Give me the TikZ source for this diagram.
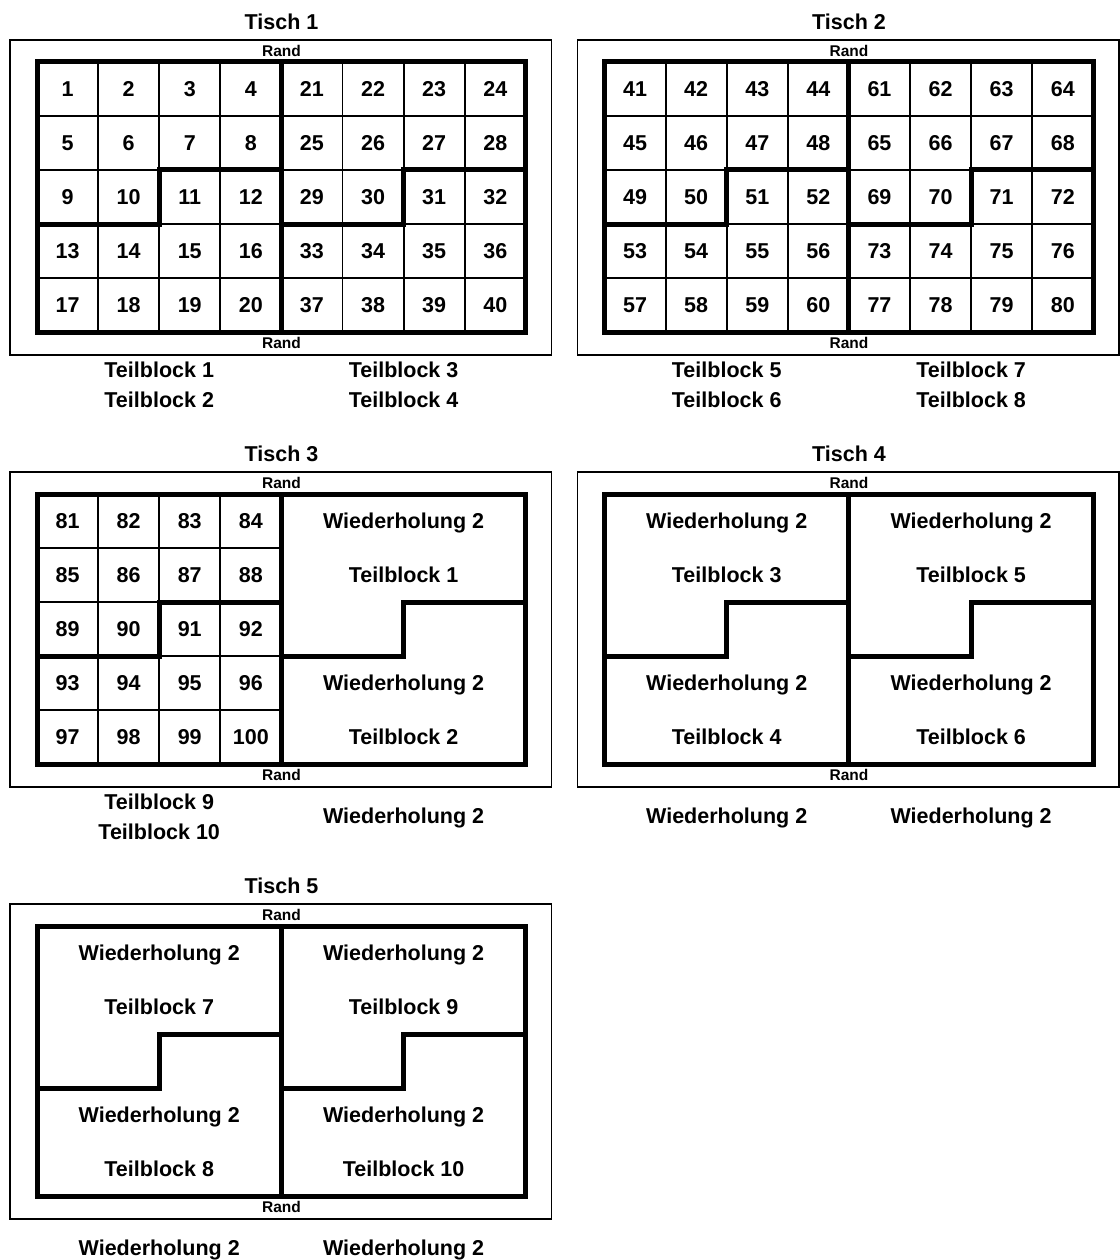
\documentclass[tikz,border=0pt]{standalone}
\usepackage{fontspec}
\setmainfont{Liberation Sans}
\newcommand\tischframe[2]{% title, id
  \draw[frame] (10,40) rectangle (551.5,355);
  \node[big] (#2title) at (281.5,22) {#1};
  \node[small] (#2rtop) at (281.5,50.5) {Rand};
  \node[small] (#2rbot) at (281.5,342.5) {Rand};}
\newcommand\numhalf[2]{% left x, first number
  \foreach \i in {1,2,3} \draw[gridline] ({#1+61.1*\i},62) -- ({#1+61.1*\i},332);
  \foreach \j in {1,2,3,4} \draw[gridline] (#1,{62+54*\j}) -- ({#1+244.4},{62+54*\j});
  \foreach \r in {0,...,4}{\foreach \c in {0,...,3}{%
     \pgfmathtruncatemacro\num{#2+4*\r+\c}%
     \node[big] (n\num) at ({#1+61.1*(\c+0.5)},{62+54*(\r+0.5)}) {\num};}}}
\newcommand\wdhalf[4]{% center x, id, top block, bottom block
  \node[big] (#2wa) at (#1,89) {Wiederholung 2};
  \node[big] (#2ta) at (#1,143) {Teilblock #3};
  \node[big] (#2wb) at (#1,251) {Wiederholung 2};
  \node[big] (#2tb) at (#1,305) {Teilblock #4};}
\newcommand\blocklines{%
  \draw[blockline] (37,62) rectangle (525.8,332);
  \draw[blockline] (281.4,62) -- (281.4,332);
  \draw[blockline] (281.4,170) -- (159.2,170) -- (159.2,224) -- (37,224);
  \draw[blockline] (525.8,170) -- (403.6,170) -- (403.6,224) -- (281.4,224);}
\begin{document}
\begin{tikzpicture}[x=1pt,y=-1pt,
  big/.style={font=\fontsize{21.5}{24}\selectfont\bfseries, inner sep=0pt, text height=15.4pt, text depth=0pt},
  small/.style={font=\fontsize{15.5}{18}\selectfont\bfseries, inner sep=0pt, text height=11.1pt, text depth=0pt},
  gridline/.style={line width=1.8pt},
  blockline/.style={line width=5pt, line cap=rect},
  frame/.style={line width=1.6pt}]
\useasboundingbox (0,0) rectangle (1119,1260);
\fill[white] (0,0) rectangle (1119,1260);
% Tisch 1
\begin{scope}
  \tischframe{Tisch 1}{ta}
  \numhalf{37}{1}
  \numhalf{281.4}{21}
  \blocklines
  \node[big] (taL1) at (159.2,370) {Teilblock 1};
  \node[big] (taL2) at (159.2,400) {Teilblock 2};
  \node[big] (taL3) at (403.6,370) {Teilblock 3};
  \node[big] (taL4) at (403.6,400) {Teilblock 4};
\end{scope}
% Tisch 2
\begin{scope}[shift={(567.5,0)}]
  \tischframe{Tisch 2}{tb}
  \numhalf{37}{41}
  \numhalf{281.4}{61}
  \blocklines
  \node[big] (tbL1) at (159.2,370) {Teilblock 5};
  \node[big] (tbL2) at (159.2,400) {Teilblock 6};
  \node[big] (tbL3) at (403.6,370) {Teilblock 7};
  \node[big] (tbL4) at (403.6,400) {Teilblock 8};
\end{scope}
% Tisch 3
\begin{scope}[shift={(0,432)}]
  \tischframe{Tisch 3}{tc}
  \numhalf{37}{81}
  \wdhalf{403.6}{tcR}{1}{2}
  \blocklines
  \node[big] (tcL1) at (159.2,370) {Teilblock 9};
  \node[big] (tcL2) at (159.2,400) {Teilblock 10};
  \node[big] (tcL3) at (403.6,384) {Wiederholung 2};
\end{scope}
% Tisch 4
\begin{scope}[shift={(567.5,432)}]
  \tischframe{Tisch 4}{td}
  \wdhalf{159.2}{tdL}{3}{4}
  \wdhalf{403.6}{tdR}{5}{6}
  \blocklines
  \node[big] (tdL1) at (159.2,384) {Wiederholung 2};
  \node[big] (tdL2) at (403.6,384) {Wiederholung 2};
\end{scope}
% Tisch 5
\begin{scope}[shift={(0,864)}]
  \tischframe{Tisch 5}{te}
  \wdhalf{159.2}{teL}{7}{8}
  \wdhalf{403.6}{teR}{9}{10}
  \blocklines
  \node[big] (teL1) at (159.2,384) {Wiederholung 2};
  \node[big] (teL2) at (403.6,384) {Wiederholung 2};
\end{scope}
\end{tikzpicture}
\end{document}
